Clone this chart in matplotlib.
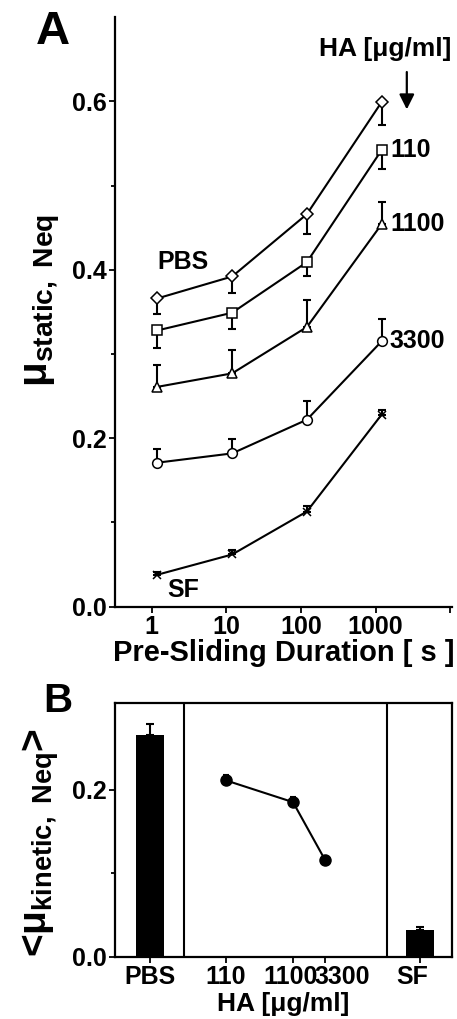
import matplotlib
matplotlib.use("Agg")
import matplotlib.pyplot as plt
import matplotlib.transforms as mtransforms
import numpy as np

plt.rcParams['font.family'] = ['Liberation Sans', 'DejaVu Sans']
plt.rcParams['font.weight'] = 'bold'
plt.rcParams['mathtext.fontset'] = 'custom'
plt.rcParams['mathtext.rm'] = 'Liberation Sans:bold'
plt.rcParams['mathtext.it'] = 'Liberation Sans:bold'
plt.rcParams['mathtext.bf'] = 'Liberation Sans:bold'

# pre-sliding duration [s]
durations = [1.2, 12, 120, 1200]

# static friction coefficient for each lubricant
mu_pbs = [0.366, 0.392, 0.466, 0.599]
err_pbs = [0.018, 0.020, 0.023, 0.027]
mu_110 = [0.328, 0.349, 0.409, 0.542]
err_110 = [0.021, 0.019, 0.017, 0.023]
mu_1100 = [0.261, 0.277, 0.332, 0.454]
err_1100 = [0.026, 0.028, 0.032, 0.027]
mu_3300 = [0.171, 0.182, 0.222, 0.315]
err_3300 = [0.016, 0.017, 0.022, 0.027]
mu_sf = [0.038, 0.062, 0.113, 0.228]
err_sf = [0.003, 0.005, 0.006, 0.005]

# kinetic friction (panel B)
kin_pbs = 0.265
kin_pbs_err = 0.013
ha_conc = [110, 1100, 3300]
kin_ha = [0.211, 0.185, 0.116]
kin_ha_err = [0.006, 0.006, 0.004]
kin_sf = 0.032
kin_sf_err = 0.003

fig = plt.figure(figsize=(4.57, 10.19), dpi=100)
axA = fig.add_axes([0.2516, 0.4046, 0.7374, 0.5787])
axB = fig.add_axes([0.2516, 0.0611, 0.7374, 0.2493])

lw = 1.5
zeros = [0, 0, 0, 0]
fs = 18


def series(y, err, marker, down, ms=7):
    yerr = [err, zeros] if down else [zeros, err]
    axA.errorbar(durations, y, yerr=yerr, fmt='none', ecolor='k',
                 elinewidth=lw, capsize=3, capthick=lw, zorder=2)
    axA.plot(durations, y, color='k', lw=lw, marker=marker, ms=ms,
             mfc='white', mec='k', mew=1.1, zorder=3)


series(mu_pbs, err_pbs, 'D', True, ms=6)
series(mu_110, err_110, 's', True)
series(mu_1100, err_1100, '^', False)
series(mu_3300, err_3300, 'o', False)
series(mu_sf, err_sf, 'x', False, ms=6)

axA.set_xscale('log')
axA.set_xlim(0.324, 10500)
axA.set_ylim(0, 0.70)
axA.set_xticks([1, 10, 100, 1000, 10000])
axA.set_xticklabels(['1', '10', '100', '1000', ''])
axA.xaxis.set_minor_locator(matplotlib.ticker.NullLocator())
axA.set_yticks([0.0, 0.2, 0.4, 0.6])
axA.set_yticks([0.1, 0.3, 0.5], minor=True)
axA.yaxis.set_major_formatter(matplotlib.ticker.FormatStrFormatter('%.1f'))
for s in ['top', 'right']:
    axA.spines[s].set_visible(False)

axA.text(1.21, 0.409, 'PBS', fontsize=fs, fontweight='bold', va='center')
axA.text(1.65, 0.020, 'SF', fontsize=fs, fontweight='bold', va='center')
for y, lab in [(mu_110[-1], '110'), (mu_1100[-1], '1100'), (mu_3300[-1], '3300')]:
    axA.text(1550, y, lab, fontsize=fs, fontweight='bold', va='center')
axA.text(175, 0.662, 'HA [μg/ml]', fontsize=19, fontweight='bold', va='center')
axA.annotate('', xy=(2610, 0.587), xytext=(2610, 0.638),
             arrowprops=dict(arrowstyle='-|>,head_length=0.9,head_width=0.45',
                             color='k', lw=1.6))

axA.set_xlabel('Pre-Sliding Duration [ s ]', fontsize=21, fontweight='bold',
               labelpad=0)
axA.set_ylabel('μ$_{\\rm static,\\ Neq}$', fontsize=29, fontweight='bold')
axA.yaxis.set_label_coords(-0.158, 0.52)

# panel B: positions along a log10(concentration) axis
pos_pbs = 0.906
pos_sf = 4.936
pos_ha = np.log10(ha_conc)
divider_pos = [1.418, 4.439]
bar_w = 0.418

axB.bar([pos_pbs, pos_sf], [kin_pbs, kin_sf], width=bar_w, color='k', zorder=2)
axB.errorbar([pos_pbs, pos_sf], [kin_pbs, kin_sf],
             yerr=[[0, 0], [kin_pbs_err, kin_sf_err]], fmt='none', ecolor='k',
             elinewidth=lw, capsize=3, capthick=lw)
axB.errorbar(pos_ha, kin_ha, yerr=[[0, 0, 0], kin_ha_err], fmt='none',
             ecolor='k', elinewidth=lw, capsize=2.5, capthick=lw)
axB.plot(pos_ha, kin_ha, color='k', lw=lw, marker='o', ms=8, zorder=3)
for xd in divider_pos:
    axB.axvline(xd, color='k', lw=1.5)

axB.set_xlim(0.384, 5.414)
axB.set_ylim(0, 0.304)
axB.set_xticks([pos_pbs] + list(pos_ha) + [pos_sf])
axB.set_xticklabels(['PBS', '110', '1100', '3300', 'SF'])
axB.set_yticks([0.0, 0.2])
axB.set_yticks([0.1], minor=True)
axB.yaxis.set_major_formatter(matplotlib.ticker.FormatStrFormatter('%.1f'))
axB.set_xlabel('HA [μg/ml]', fontsize=19, fontweight='bold')
axB.xaxis.set_label_coords(0.5, -0.14)
axB.set_ylabel('<μ$_{\\rm kinetic,\\ Neq}$>', fontsize=28, fontweight='bold')
axB.yaxis.set_label_coords(-0.16, 0.45)

for ax in (axA, axB):
    for s in ax.spines.values():
        s.set_linewidth(1.6)
    ax.tick_params(which='both', direction='out', width=1.3, labelsize=fs)
    ax.tick_params(which='major', length=4, pad=2)
    ax.tick_params(which='minor', length=3)
    for lab in ax.get_xticklabels() + ax.get_yticklabels():
        lab.set_fontweight('bold')

# nudge the crowded concentration labels apart
xlabels = axB.get_xticklabels()
xlabels[2].set_transform(xlabels[2].get_transform() +
                         mtransforms.ScaledTranslation(-0.02, 0, fig.dpi_scale_trans))
xlabels[3].set_transform(xlabels[3].get_transform() +
                         mtransforms.ScaledTranslation(0.17, 0, fig.dpi_scale_trans))
xlabels[4].set_transform(xlabels[4].get_transform() +
                         mtransforms.ScaledTranslation(-0.08, 0, fig.dpi_scale_trans))

fig.text(0.116, 0.969, 'A', fontsize=34, fontweight='bold', ha='center', va='center')
fig.text(0.126, 0.312, 'B', fontsize=29, fontweight='bold', ha='center', va='center')

fig.savefig('out.png', dpi=100)
